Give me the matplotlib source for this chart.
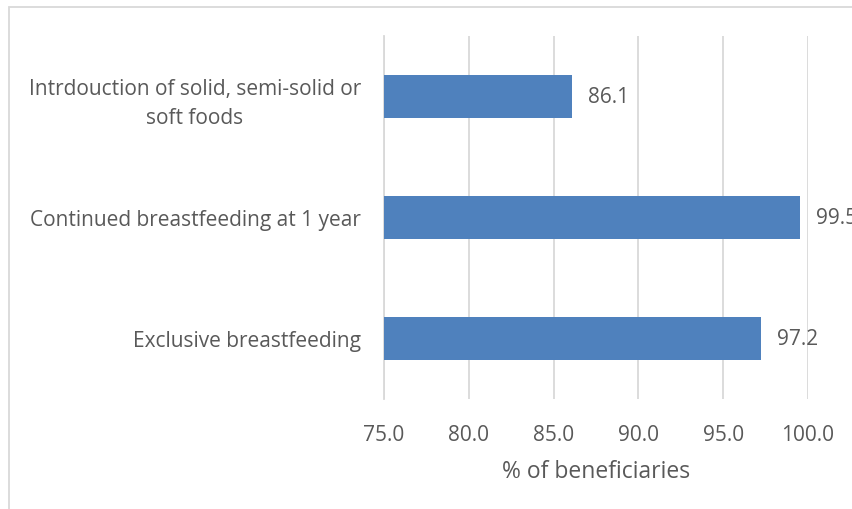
import matplotlib
matplotlib.use("Agg")
import matplotlib.pyplot as plt
from matplotlib.patches import Rectangle

# Infant feeding indicators, bottom to top
categories = [
    "Exclusive breastfeeding",
    "Continued breastfeeding at 1 year",
    "Intrdouction of solid, semi-solid or\nsoft foods",
]
values = [97.2, 99.5, 86.1]
xticks = [75.0, 80.0, 85.0, 90.0, 95.0, 100.0]

BAR = "#4f81bd"
TXT = "#595959"
GRID = "#d9d9d9"
FS = 15

plt.rcParams["font.family"] = ["Open Sans", "DejaVu Sans"]

W, H = 853, 510
fig = plt.figure(figsize=(W / 100, H / 100), dpi=100)
ax = fig.add_axes([384 / W, 1 - 400 / H, (808 - 384) / W, (400 - 37) / H])

ypos = list(range(len(categories)))
ax.barh(ypos, [v - xticks[0] for v in values], left=xticks[0], height=0.355,
        color=BAR, zorder=3)
for y, v in zip(ypos, values):
    ax.text(v + 0.95, y, f"{v:.1f}", va="center", ha="left", fontsize=FS,
            color=TXT, clip_on=False)

ax.set_xlim(xticks[0], xticks[-1])
ax.set_ylim(-0.5, len(categories) - 0.5)
ax.set_xticks(xticks)
ax.set_xticklabels([f"{t:.1f}" for t in xticks], fontsize=FS, color=TXT)
ax.set_yticks(ypos)
ax.set_yticklabels(categories, fontsize=FS, color=TXT, multialignment="center",
                   linespacing=1.5)
ax.tick_params(axis="both", length=0)
ax.tick_params(axis="y", pad=16.5)
ax.tick_params(axis="x", pad=18)
ax.grid(axis="x", color=GRID, linewidth=1.3, zorder=0)
for s in ["top", "right", "bottom"]:
    ax.spines[s].set_visible(False)
ax.spines["left"].set_color(GRID)
ax.spines["left"].set_linewidth(1.3)
ax.set_xlabel("% of beneficiaries", fontsize=16.5, color=TXT, labelpad=10)

# light frame around the chart area
fig.patches.append(Rectangle((9 / W, -0.1), 1.2, 1 - 8 / H + 0.1,
                             transform=fig.transFigure, fill=False,
                             edgecolor=GRID, linewidth=1.3))

fig.savefig("out.png", dpi=100)
